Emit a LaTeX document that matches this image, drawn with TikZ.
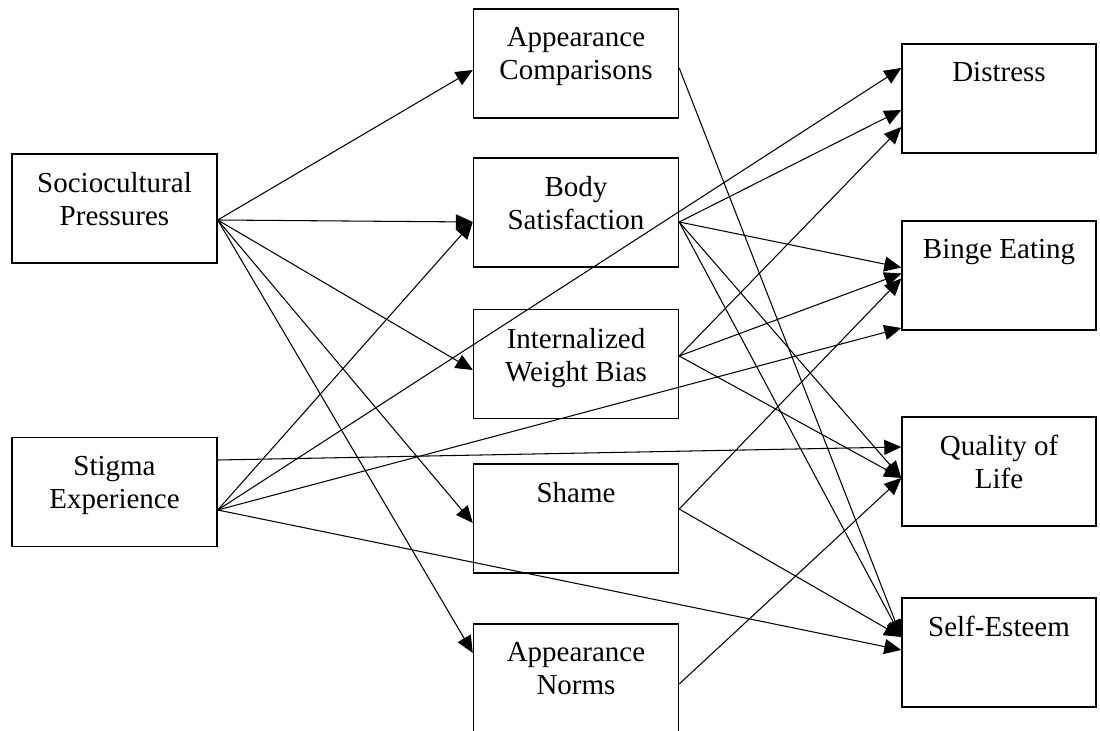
\documentclass[tikz,border=0pt]{standalone}
\usepackage{fontspec}
\setmainfont{Liberation Serif}
\usetikzlibrary{positioning, arrows.meta}

\begin{document}
\begin{tikzpicture}[
    box/.style={rectangle, draw, line width=0.8pt, minimum width=4.1cm, minimum height=2.18cm, inner sep=0pt},
    rbox/.style={box, minimum width=3.88cm},
    arr/.style={-{Triangle[length=0.34cm, width=0.3cm]}, line width=0.6pt},
    lbl/.style={font=\fontsize{16.5}{18.7}\selectfont, align=center, inner sep=0pt},
  ]
    \useasboundingbox (0,0) rectangle (22,14.6);

    % Predictors
    \node[box] (socio) at (2.29,10.43) {};
    \node[box] (stigma) at (2.29,4.76) {};

    % Mediators
    \node[box] (ac) at (11.52,13.33) {};
    \node[box] (bs) at (11.52,10.35) {};
    \node[box] (iwb) at (11.52,7.32) {};
    \node[box] (shame) at (11.52,4.23) {};
    \node[box] (an) at (11.52,1.03) {};

    % Outcomes
    \node[rbox] (distress) at (19.98,12.63) {};
    \node[rbox] (be) at (19.98,9.09) {};
    \node[rbox] (qol) at (19.98,5.17) {};
    \node[rbox] (se) at (19.98,1.55) {};

    % Box texts
    \node[below=0.38cm of socio.north, lbl] (sociotxt) {Sociocultural\\Pressures};
    \node[below=0.38cm of stigma.north, lbl] (stigmatxt) {Stigma\\Experience};
    \node[below=0.38cm of ac.north, lbl] (actxt) {Appearance\\Comparisons};
    \node[below=0.38cm of bs.north, lbl] (bstxt) {Body\\Satisfaction};
    \node[below=0.38cm of iwb.north, lbl] (iwbtxt) {Internalized\\Weight Bias};
    \node[below=0.38cm of shame.north, lbl] (shametxt) {Shame};
    \node[below=0.38cm of an.north, lbl] (antxt) {Appearance\\Norms};
    \node[below=0.37cm of distress.north, lbl] (distresstxt) {Distress};
    \node[below=0.37cm of be.north, lbl] (betxt) {Binge Eating};
    \node[below=0.37cm of qol.north, lbl] (qoltxt) {Quality of\\Life};
    \node[below=0.37cm of se.north, lbl] (setxt) {Self-Esteem};

    % Sociocultural pressures paths
    \draw[arr] ([yshift=-0.23cm]socio.east) -- ([yshift=-0.13cm]ac.west);
    \draw[arr] ([yshift=-0.23cm]socio.east) -- ([yshift=-0.19cm]bs.west);
    \draw[arr] ([yshift=-0.23cm]socio.east) -- ([yshift=-0.12cm]iwb.west);
    \draw[arr] ([yshift=-0.23cm]socio.east) -- ([yshift=-0.09cm]shame.west);
    \draw[arr] ([yshift=-0.23cm]socio.east) -- ([yshift=0.51cm]an.west);

    % Stigma experience paths
    \draw[arr] ([yshift=0.64cm]stigma.east) -- ([yshift=0.49cm]qol.west);
    \draw[arr] ([yshift=-0.36cm]stigma.east) -- ([yshift=-0.19cm]bs.west);
    \draw[arr] ([yshift=-0.36cm]stigma.east) -- ([yshift=0.61cm]distress.west);
    \draw[arr] ([yshift=-0.36cm]stigma.east) -- ([yshift=-1.05cm]be.west);
    \draw[arr] ([yshift=-0.36cm]stigma.east) -- ([yshift=0.05cm]se.west);

    % Mediator paths
    \draw[arr] ([yshift=-0.09cm]ac.east) -- ([yshift=0.31cm]se.west);
    \draw[arr] ([yshift=-0.19cm]bs.east) -- ([yshift=-0.23cm]distress.west);
    \draw[arr] ([yshift=-0.19cm]bs.east) -- ([yshift=0.16cm]be.west);
    \draw[arr] ([yshift=-0.19cm]bs.east) -- ([yshift=-0.13cm]qol.west);
    \draw[arr] ([yshift=-0.19cm]bs.east) -- ([yshift=0.31cm]se.west);
    \draw[arr] ([yshift=0.16cm]iwb.east) -- ([yshift=-0.57cm]distress.west);
    \draw[arr] ([yshift=0.16cm]iwb.east) -- ([yshift=0.04cm]be.west);
    \draw[arr] ([yshift=0.16cm]iwb.east) -- ([yshift=-0.13cm]qol.west);
    \draw[arr] ([yshift=0.19cm]shame.east) -- ([yshift=-0.06cm]be.west);
    \draw[arr] ([yshift=0.19cm]shame.east) -- ([yshift=0.31cm]se.west);
    \draw[arr] ([yshift=-0.11cm]an.east) -- ([yshift=-0.13cm]qol.west);
  \end{tikzpicture}
\end{document}
